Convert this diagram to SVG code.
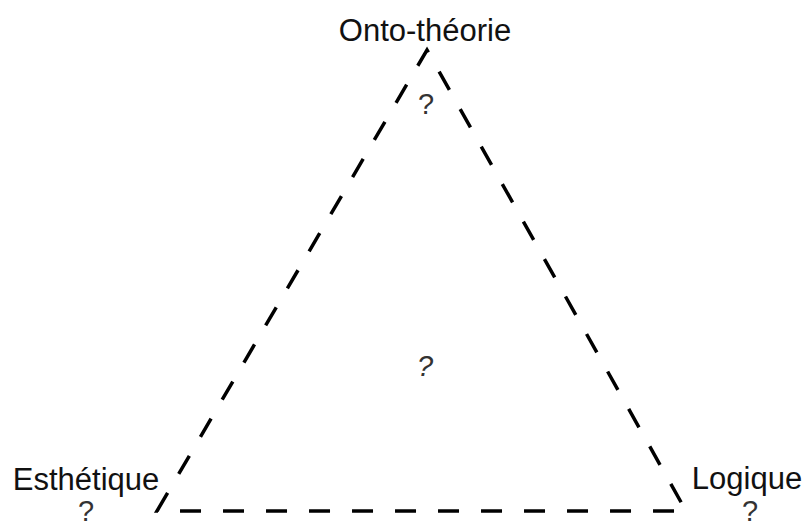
<svg xmlns="http://www.w3.org/2000/svg" width="808" height="526" viewBox="0 0 808 526">
<style>
.lbl{font-family:"Liberation Sans",Arial,sans-serif;font-size:31px;fill:#111;text-anchor:middle}
.q{font-family:"Liberation Sans",Arial,sans-serif;font-size:29px;fill:#333;text-anchor:middle}
.edge{fill:none;stroke:#000;stroke-width:3.5;stroke-dasharray:21 22;stroke-linejoin:miter}
</style>
<rect width="808" height="526" fill="#fff"/>
<g id="connectors">
<path class="edge" d="M157,511 L427,50 L686,511 Z"/>
</g>
<g id="node-onto">
<text class="lbl" x="425" y="41">Onto-théorie</text>
<text class="q" x="426" y="114">?</text>
</g>
<g id="node-esthetique">
<text class="lbl" x="86" y="490">Esthétique</text>
<text class="q" x="86" y="521">?</text>
</g>
<g id="node-logique">
<text class="lbl" x="747" y="489">Logique</text>
<text class="q" x="750" y="521">?</text>
</g>
<g id="node-center">
<text class="q" x="425" y="376" font-style="italic">?</text>
</g>
</svg>
